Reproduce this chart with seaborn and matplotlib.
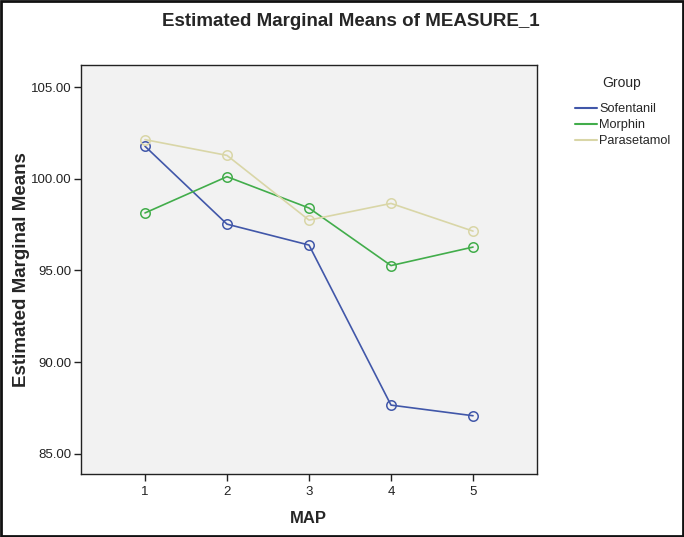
import matplotlib
matplotlib.use("Agg")
import matplotlib.pyplot as plt
import seaborn as sns
import pandas as pd
from matplotlib.lines import Line2D
from matplotlib.patches import Rectangle
from matplotlib.ticker import FormatStrFormatter

groups = ["Sofentanil", "Morphin", "Parasetamol"]
map_levels = [1, 2, 3, 4, 5]
sofentanil = [101.77, 97.52, 96.38, 87.65, 87.07]
morphin = [98.13, 100.11, 98.40, 95.26, 96.27]
parasetamol = [102.13, 101.27, 97.74, 98.65, 97.14]
colors = ["#4157a9", "#42ad4b", "#d9d6a7"]
yticks = [85, 90, 95, 100, 105]

rows = []
for g, vals in zip(groups, [sofentanil, morphin, parasetamol]):
    for m, v in zip(map_levels, vals):
        rows.append({"MAP": m, "Mean": v, "Group": g})
df = pd.DataFrame(rows)

sns.set_style("white")
plt.rcParams["font.family"] = ["Liberation Sans", "DejaVu Sans"]

fig = plt.figure(figsize=(6.84, 5.37), dpi=100)
ax = fig.add_axes([81/684, 1-473.5/537, (537-81)/684, (473.5-65)/537])
ax.set_facecolor("#f2f2f2")

sns.lineplot(data=df, x="MAP", y="Mean", hue="Group", hue_order=groups,
             palette=colors, marker="o", ax=ax, legend=False, linewidth=1.2,
             markersize=6.8)
for line, c in zip(ax.lines, colors):
    line.set_markerfacecolor("none")
    line.set_markeredgecolor(c)
    line.set_markeredgewidth(1.1)

ax.set_xlim(0.22, 5.78)
ax.set_ylim(83.92, 106.2)
ax.set_xticks(map_levels)
ax.set_yticks(yticks)
ax.yaxis.set_major_formatter(FormatStrFormatter("%.2f"))
ax.tick_params(axis="both", direction="out", length=5, width=1.0,
               labelsize=9.5, colors="#222222", left=True, bottom=True)
ax.tick_params(axis="x", pad=4)
ax.tick_params(axis="y", pad=1.5)
for s in ax.spines.values():
    s.set_color("#222222")
    s.set_linewidth(1.0)

ax.set_xlabel("MAP", fontsize=12, fontweight="bold")
ax.set_ylabel("Estimated Marginal Means", fontsize=13.5, fontweight="bold")
ax.xaxis.set_label_coords((308-81)/456, (473.5-511)/408.5)
ax.yaxis.set_label_coords((30-81)/456, 0.5)

fig.text(351/684, 1-21/537, "Estimated Marginal Means of MEASURE_1",
         ha="center", va="center", fontsize=13.5, fontweight="bold")

fig.text(622/684, 1-83/537, "Group", ha="center", va="center", fontsize=10)
handles = [Line2D([0], [0], color=c, lw=1.5) for c in colors]
leg = fig.legend(handles, groups, loc="upper left",
                 bbox_to_anchor=(575/684, 1-103/537), frameon=False,
                 fontsize=9.2, handlelength=1.72, borderaxespad=0.0,
                 handletextpad=0.16, labelspacing=0.32, borderpad=0.0)

fig.add_artist(Rectangle((0.001, 0.002), 0.998, 0.996, transform=fig.transFigure,
                         fill=False, edgecolor="#111111", linewidth=2.0))

fig.savefig("out.png", dpi=100)
